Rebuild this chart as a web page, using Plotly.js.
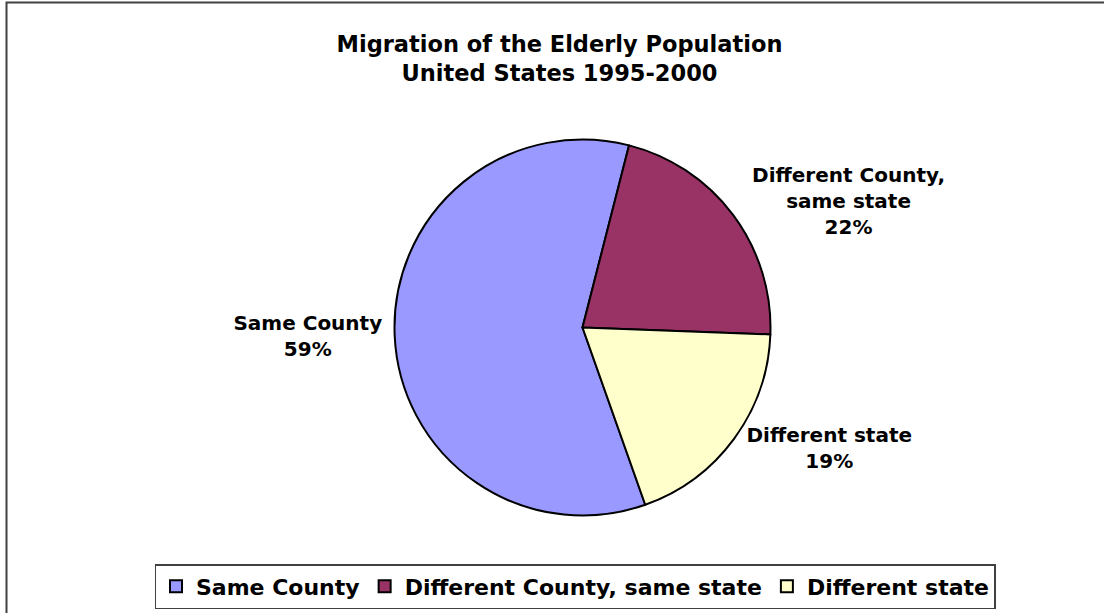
<!DOCTYPE html>
<html>
<head>
<meta charset="utf-8">
<script src="https://cdn.plot.ly/plotly-3.0.1.min.js"></script>
<style>
  html, body { margin: 0; padding: 0; background: #ffffff; }
  #chart { width: 1104px; height: 613px; }
</style>
</head>
<body>
<div id="chart"></div>
<script>
// Data
const categories = ["Same County", "Different County, same state", "Different state"];
const sliceLabels = ["Same County", "Different County,<br>same state", "Different state"];
const values = [59.4, 21.6, 19.0];
const sliceColors = ["#9999FF", "#993366", "#FFFFCC"];

const titleLines = ["Migration of the Elderly Population", "United States 1995-2000"];

const FONT = "DejaVu Sans, Liberation Sans, Arial, sans-serif";

const trace = {
  type: "pie",
  labels: categories,
  values: values,
  text: sliceLabels,
  sort: false,
  direction: "clockwise",
  rotation: 160.5,
  marker: { colors: sliceColors, line: { color: "#000000", width: 2 } },
  textposition: "outside",
  texttemplate: "<b>%{text}<br>%{percent:.0%}</b>",
  outsidetextfont: { family: FONT, size: 20, color: "#000000" },
  hoverinfo: "label+percent",
  domain: { x: [394.5 / 1104, 770.5 / 1104], y: [97.5 / 613, 473.5 / 613] },
  showlegend: true
};

const layout = {
  width: 1104,
  height: 613,
  margin: { l: 0, r: 0, t: 0, b: 0 },
  paper_bgcolor: "#ffffff",
  plot_bgcolor: "#ffffff",
  font: { family: FONT, color: "#000000" },
  title: {
    text: "<b>" + titleLines.join("<br>") + "</b>",
    font: { family: FONT, size: 22.5, color: "#000000" },
    x: 559.5 / 1104,
    xanchor: "center",
    xref: "paper",
    y: 1 - 52 / 613,
    yanchor: "top",
    yref: "container"
  },
  legend: {
    orientation: "h",
    x: 575 / 1104,
    xanchor: "center",
    y: (613 - 586.5) / 613,
    yanchor: "middle",
    bgcolor: "#ffffff",
    bordercolor: "#404040",
    borderwidth: 1.5,
    font: { family: FONT, size: 22, color: "#000000", weight: "bold" },
    traceorder: "normal"
  },
  shapes: [{
    type: "rect",
    xref: "paper", yref: "paper",
    x0: 6.5 / 1104, x1: 1.05,
    y0: -0.05, y1: 1 - 2.5 / 613,
    line: { color: "#404040", width: 2 },
    fillcolor: "rgba(0,0,0,0)",
    layer: "above"
  }]
};

Plotly.newPlot("chart", [trace], layout, { displayModeBar: false, staticPlot: true });
</script>
</body>
</html>
